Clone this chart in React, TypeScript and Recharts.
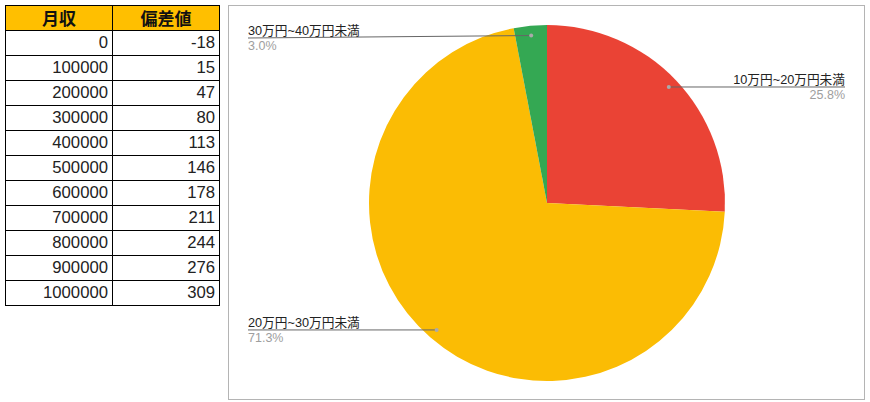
import React from "react";
import { PieChart, Pie, Cell } from "recharts";

const tableHeaders = ["月収", "偏差値"];
const incomes = ["0", "100000", "200000", "300000", "400000", "500000", "600000", "700000", "800000", "900000", "1000000"];
const deviations = ["-18", "15", "47", "80", "113", "146", "178", "211", "244", "276", "309"];

const sliceNames = ["10万円~20万円未満", "20万円~30万円未満", "30万円~40万円未満"];
const sliceValues = [25.8, 71.3, 3.0];
const sliceColors = ["#EA4335", "#FBBC04", "#34A853"];

const pieData = sliceNames.map((name, i) => ({ name, value: sliceValues[i] }));

const FONT = '"Liberation Sans", Arial, "Noto Sans CJK JP", sans-serif';
const RAD = Math.PI / 180;

const CHART_W = 635;
const CHART_H = 393;
const LEFT_X = 19;
const RIGHT_X = 616;
const MIN_LABEL_Y = 32;

const renderLabel = (props: any) => {
  const { cx, cy, midAngle, outerRadius, index } = props;
  const r = outerRadius * 0.945;
  const dx = cx + r * Math.cos(-midAngle * RAD);
  const dy = cy + r * Math.sin(-midAngle * RAD);
  const right = dx > cx;
  const tx = right ? RIGHT_X : LEFT_X;
  const ly = Math.max(dy, MIN_LABEL_Y);
  const anchor = right ? "end" : "start";
  return (
    <g key={`lbl-${index}`}>
      <line x1={tx} y1={ly} x2={dx} y2={dy} stroke="#666" strokeWidth={1} />
      <circle cx={dx} cy={dy} r={2} fill="#aaa" />
      <text x={tx} y={ly - 3} textAnchor={anchor} fontFamily={FONT} fontSize={12.7} fill="#222">
        {sliceNames[index]}
      </text>
      <text x={tx} y={ly + 12} textAnchor={anchor} fontFamily={FONT} fontSize={12.5} fill="#9e9e9e">
        {sliceValues[index].toFixed(1)}%
      </text>
    </g>
  );
};

const cellBase: React.CSSProperties = {
  boxSizing: "border-box",
  height: 25,
  borderRight: "1px solid #000",
  borderBottom: "1px solid #000",
  fontSize: 16.7,
  lineHeight: "24px",
  color: "#222",
  paddingRight: 4,
  textAlign: "right",
  whiteSpace: "nowrap",
};

export default function App() {
  return (
    <div
      style={{
        position: "absolute",
        left: 0,
        top: 0,
        width: 870,
        height: 402,
        background: "#fff",
        fontFamily: FONT,
        overflow: "hidden",
      }}
    >
      <div
        style={{
          position: "absolute",
          left: 5,
          top: 5,
          display: "grid",
          gridTemplateColumns: "107px 107px",
          borderLeft: "1px solid #000",
          borderTop: "1px solid #000",
        }}
      >
        {tableHeaders.map((h) => (
          <div
            key={h}
            style={{
              ...cellBase,
              background: "#FFBF00",
              fontWeight: "bold",
              fontSize: 17,
              textAlign: "center",
              paddingRight: 0,
              color: "#111",
              fontFamily: '"Noto Sans CJK JP", sans-serif',
            }}
          >
            {h}
          </div>
        ))}
        {incomes.map((inc, i) => (
          <React.Fragment key={inc}>
            <div style={cellBase}>{inc}</div>
            <div style={cellBase}>{deviations[i]}</div>
          </React.Fragment>
        ))}
      </div>

      <div
        style={{
          position: "absolute",
          left: 228,
          top: 5,
          width: 637,
          height: 395,
          boxSizing: "border-box",
          border: "1px solid #b4b4b4",
        }}
      >
        <PieChart width={CHART_W} height={CHART_H} margin={{ top: 0, right: 0, bottom: 0, left: 0 }}>
          <Pie
            data={pieData}
            dataKey="value"
            nameKey="name"
            cx={318}
            cy={197}
            outerRadius={178}
            startAngle={90}
            endAngle={-270}
            stroke="none"
            label={renderLabel}
            labelLine={false}
            isAnimationActive={false}
          >
            {pieData.map((d, i) => (
              <Cell key={d.name} fill={sliceColors[i]} />
            ))}
          </Pie>
        </PieChart>
      </div>
    </div>
  );
}
